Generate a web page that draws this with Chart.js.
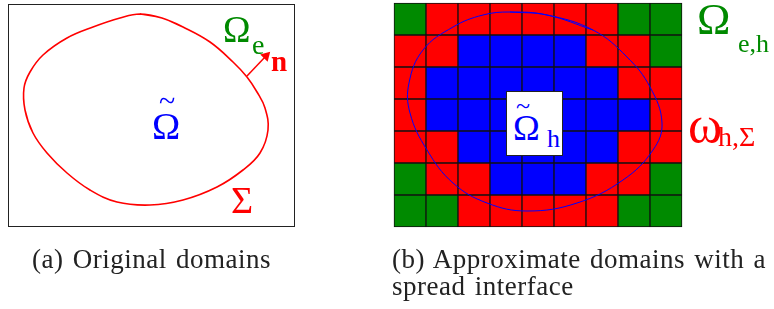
<!DOCTYPE html>
<html>
<head>
<meta charset="utf-8">
<script src="https://cdn.jsdelivr.net/npm/chart.js@4.4.0/dist/chart.umd.min.js"></script>
<style>
  body { margin: 0; background: #fff; }
  #wrap { position: relative; width: 774px; height: 309px; font-family: "Liberation Serif", serif; }
  #fig { position: absolute; left: 0; top: 0; }
  .t { position: absolute; white-space: nowrap; line-height: 1; }
  .box { position: absolute; border: 1.3px solid #222; }
  .cap { position: absolute; font-family: "Liberation Serif", serif; font-size: 27px; color: #222; line-height: 27px;
         letter-spacing: 0.5px; word-spacing: 2px; white-space: nowrap; }
</style>
</head>
<body>
<div id="wrap">
  <div class="box" style="left:8px;top:4px;width:285px;height:221px;"></div>
  <canvas id="fig" width="774" height="309"></canvas>

  <!-- left panel labels -->
  <span class="t" style="left:159px;top:86px;font-size:30px;color:#0000ff;">~</span>
  <span class="t" style="left:152px;top:107px;font-size:38px;color:#0000ff;">&Omega;</span>
  <span class="t" style="left:223px;top:11px;font-size:37px;color:#008a00;">&Omega;</span>
  <span class="t" style="left:252px;top:31px;font-size:28px;color:#008a00;">e</span>
  <span class="t" style="left:271px;top:47px;font-size:29px;font-weight:bold;color:#ff0000;">n</span>
  <span class="t" style="left:231px;top:181px;font-size:38px;color:#ff0000;">&Sigma;</span>

  <!-- right panel labels -->
  <div class="box" style="left:506px;top:91px;width:55px;height:63px;background:#fff;border-width:1px;"></div>
  <span class="t" style="left:516px;top:93px;font-size:26px;color:#0000ff;">~</span>
  <span class="t" style="left:513px;top:110px;font-size:36px;color:#0000ff;">&Omega;</span>
  <span class="t" style="left:547px;top:126px;font-size:26px;color:#0000ff;">h</span>
  <span class="t" style="left:697px;top:-3px;font-size:45px;color:#008a00;">&Omega;</span>
  <span class="t" style="left:738px;top:31px;font-size:26px;color:#008a00;">e,h</span>
  <span class="t" style="left:688px;top:99px;font-size:52px;color:#ff0000;">&omega;</span>
  <span class="t" style="left:718px;top:123px;font-size:28px;color:#ff0000;">h,&Sigma;</span>

  <div class="cap" style="left:32px;top:246px;">(a) Original domains</div>
  <div class="cap" style="left:392px;top:246px;">(b) Approximate domains with a<br>spread interface</div>
</div>
<script>
// grid of the discretised domain, one string per row: G = exterior, R = spread interface, B = interior
var cellRows = [
  'GRRRRRRGG',
  'RRBBBBRRG',
  'RBBBBBBRR',
  'RBBBBBBBR',
  'RRBBBBBRR',
  'GRRBBBRRG',
  'GGRRRRRGG'
];
var cellColors = { G: 'rgb(0,138,0)', R: '#ff0000', B: '#0000ff' };

// original interface Sigma (left panel, figure units)
var sigmaX = [140, 162, 183, 210, 233, 247, 257, 265, 268, 260, 243, 217, 183, 150, 117, 90, 67, 47, 33, 25, 24, 30, 43, 67, 93, 120];
var sigmaY = [14, 18, 27, 42, 62, 77, 92, 108, 130, 153, 170, 187, 200, 205, 202, 190, 173, 153, 133, 110, 88, 72, 55, 38, 27, 18];

// normal vector n (tail, arrow head)
var normalX = [247, 266];
var normalY = [76, 56];

// same interface drawn over the grid (right panel, figure units)
var curveX = [510, 547, 593, 627, 650, 662, 653, 623, 577, 527, 487, 453, 427, 410, 409, 423, 453, 483];
var curveY = [12, 15, 30, 57, 87, 123, 150, 180, 203, 211, 203, 183, 150, 113, 83, 50, 27, 15];

function closedPoints(xs, ys) {
  var pts = xs.map(function (x, i) { return { x: x, y: ys[i] }; });
  // wrap around so the smoothed line closes without a kink
  return pts.concat(pts.slice(0, 3));
}

var cells = [];
var cellBg = [];
cellRows.forEach(function (row, r) {
  row.split('').forEach(function (code, c) {
    cells.push({ x: c + 0.5, y: [r, r + 1] });
    cellBg.push(cellColors[code]);
  });
});

var cellSize = 32, gridLeft = 394, gridTop = 3;

new Chart(document.getElementById('fig'), {
  type: 'bar',
  data: {
    datasets: [
      {
        type: 'line', label: 'n', data: normalX.map(function (x, i) { return { x: x, y: normalY[i] }; }),
        borderColor: '#ff0000', borderWidth: 1.5, xAxisID: 'x', yAxisID: 'y',
        pointRadius: [0, 6], pointStyle: 'triangle', pointRotation: 44,
        pointBackgroundColor: '#ff0000', pointBorderWidth: 0, order: 0
      },
      {
        type: 'line', label: 'Sigma', data: closedPoints(sigmaX, sigmaY),
        borderColor: '#ff0000', borderWidth: 1.6, tension: 0.4, pointRadius: 0,
        xAxisID: 'x', yAxisID: 'y', order: 0
      },
      {
        type: 'line', label: 'Sigma_h', data: closedPoints(curveX, curveY),
        borderColor: '#0000ff', borderWidth: 1, tension: 0.4, pointRadius: 0,
        xAxisID: 'x', yAxisID: 'y', order: 0
      },
      {
        type: 'bar', label: 'cells', data: cells, backgroundColor: cellBg,
        borderColor: '#111', borderWidth: 1, borderSkipped: false,
        barThickness: cellSize, grouped: false,
        xAxisID: 'gx', yAxisID: 'gy', order: 1
      }
    ]
  },
  options: {
    responsive: false,
    animation: false,
    layout: { padding: 0, autoPadding: false },
    plugins: { legend: { display: false }, tooltip: { enabled: false } },
    scales: {
      x: { type: 'linear', display: false, offset: false, min: 0, max: 774 },
      y: { type: 'linear', display: false, offset: false, min: 0, max: 309, reverse: true },
      gx: { type: 'linear', display: false, offset: false, min: -gridLeft / cellSize, max: (774 - gridLeft) / cellSize },
      gy: { type: 'linear', display: false, offset: false, min: -gridTop / cellSize, max: (309 - gridTop) / cellSize, reverse: true }
    }
  }
});
</script>
</body>
</html>
